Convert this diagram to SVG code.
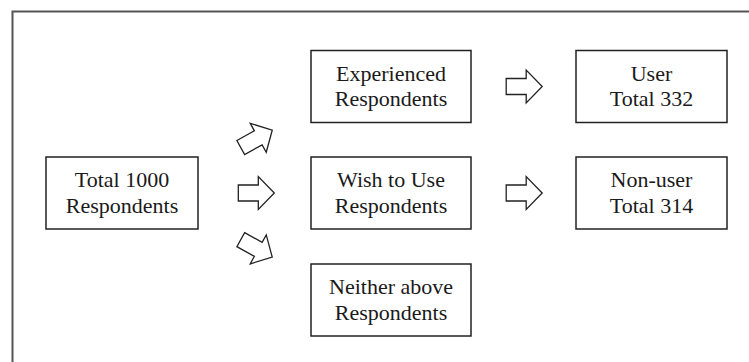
<svg xmlns="http://www.w3.org/2000/svg" width="749" height="362" viewBox="0 0 749 362">
<style>
.box{fill:#fff;stroke:#222;stroke-width:1.5}
.t{font-family:"Liberation Serif","DejaVu Serif",serif;font-size:22px;fill:#1a1a1a;text-anchor:middle}
.arr{fill:#fff;stroke:#222;stroke-width:1.3;stroke-linejoin:miter}
</style>
<defs>
<polygon id="arrow" points="-18,-8 2,-8 2,-16.5 18,0 2,16.5 2,8 -18,8"/>
</defs>
<rect width="749" height="362" fill="#fff"/>
<path d="M12.5,370 V11.5 H760" fill="none" stroke="#555" stroke-width="2"/>
<g id="total">
<rect class="box" x="46" y="157" width="152" height="72"/>
<text class="t" x="122" y="187">Total 1000</text>
<text class="t" x="122" y="212.5">Respondents</text>
</g>
<g id="experienced">
<rect class="box" x="311" y="50.5" width="160" height="72"/>
<text class="t" x="391" y="80.5">Experienced</text>
<text class="t" x="391" y="106">Respondents</text>
</g>
<g id="wish">
<rect class="box" x="311" y="157" width="160" height="72"/>
<text class="t" x="391" y="187">Wish to Use</text>
<text class="t" x="391" y="212.5">Respondents</text>
</g>
<g id="neither">
<rect class="box" x="311" y="264" width="160" height="72"/>
<text class="t" x="391" y="294">Neither above</text>
<text class="t" x="391" y="319.5">Respondents</text>
</g>
<g id="user">
<rect class="box" x="576" y="50.5" width="151" height="72"/>
<text class="t" x="651.5" y="80.5">User</text>
<text class="t" x="651.5" y="106">Total 332</text>
</g>
<g id="nonuser">
<rect class="box" x="576" y="157" width="151" height="72"/>
<text class="t" x="651.5" y="187">Non-user</text>
<text class="t" x="651.5" y="212.5">Total 314</text>
</g>
<g id="connectors">
<use href="#arrow" class="arr" transform="translate(256.5,138.8) rotate(-29)"/>
<use href="#arrow" class="arr" transform="translate(256.3,193)"/>
<use href="#arrow" class="arr" transform="translate(256.5,248.4) rotate(29)"/>
<use href="#arrow" class="arr" transform="translate(524.2,86.5)"/>
<use href="#arrow" class="arr" transform="translate(524.2,193)"/>
</g>
</svg>
